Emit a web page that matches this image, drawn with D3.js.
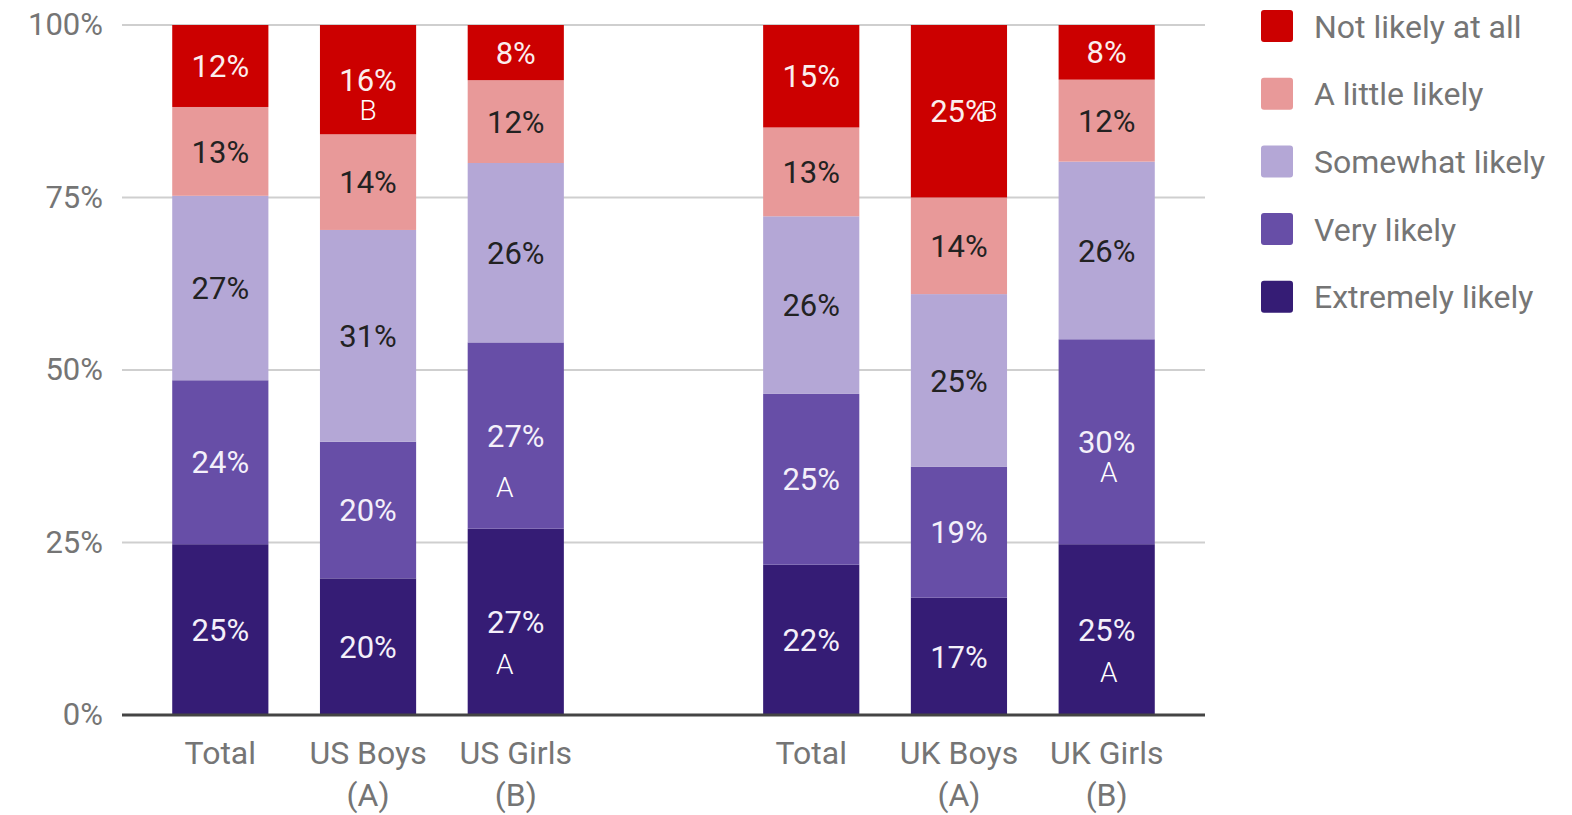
<!DOCTYPE html>
<html>
<head>
<meta charset="utf-8">
<script src="https://cdn.jsdelivr.net/npm/d3@7"></script>
<style>
  body { margin: 0; background: #fff; }
  text { font-family: Roboto, "Noto Sans", sans-serif; }
</style>
</head>
<body>
<script>
const width = 1572,
  height = 815;

// Categories (a blank slot separates US from UK)
const groupIds = ["usTotal", "usBoys", "usGirls", "gap", "ukTotal", "ukBoys", "ukGirls"];
const groupLabels = [["Total"], ["US Boys", "(A)"], ["US Girls", "(B)"], [], ["Total"], ["UK Boys", "(A)"], ["UK Girls", "(B)"]];
const barIds = ["usTotal", "usBoys", "usGirls", "ukTotal", "ukBoys", "ukGirls"];

// Series, bottom to top
const seriesNames = ["Extremely likely", "Very likely", "Somewhat likely", "A little likely", "Not likely at all"];
const extremely = [25, 20, 27, 22, 17, 25];
const very = [24, 20, 27, 25, 19, 30];
const somewhat = [27, 31, 26, 26, 25, 26];
const aLittle = [13, 14, 12, 13, 14, 12];
const notLikely = [12, 16, 8, 15, 25, 8];

// Significance letters: [bar, series, letter]
const letters = [
  ["usBoys", "Not likely at all", "B"],
  ["usGirls", "Very likely", "A"],
  ["usGirls", "Extremely likely", "A"],
  ["ukBoys", "Not likely at all", "B"],
  ["ukGirls", "Very likely", "A"],
  ["ukGirls", "Extremely likely", "A"]
];

const yTicks = [0, 0.25, 0.5, 0.75, 1];

const colors = {
  "Not likely at all": "#cc0000",
  "A little likely": "#e89999",
  "Somewhat likely": "#b4a7d6",
  "Very likely": "#674ea7",
  "Extremely likely": "#351c75"
};
const labelColor = {
  "Not likely at all": "#fbeeee",
  "A little likely": "#222",
  "Somewhat likely": "#222",
  "Very likely": "#f4f0fa",
  "Extremely likely": "#f4f0fa"
};

// build table for d3.stack
const seriesValues = [extremely, very, somewhat, aLittle, notLikely];
const table = barIds.map((id, i) => {
  const row = { id: id };
  seriesNames.forEach((s, j) => (row[s] = seriesValues[j][i]));
  return row;
});

const stacked = d3
  .stack()
  .keys(seriesNames)
  .offset(d3.stackOffsetExpand)(table);

const xScale = d3
  .scaleBand()
  .domain(groupIds)
  .range([122, 1205])
  .paddingInner(0.349)
  .paddingOuter(0.34);

const yScale = d3
  .scaleLinear()
  .domain([0, 1])
  .range([715, 25]);

const svg = d3
  .select("body")
  .append("svg")
  .attr("width", width)
  .attr("height", height);

// gridlines
svg
  .append("g")
  .selectAll("line")
  .data(yTicks.filter(t => t > 0))
  .enter()
  .append("line")
  .attr("x1", 122)
  .attr("x2", 1205)
  .attr("y1", d => yScale(d))
  .attr("y2", d => yScale(d))
  .attr("stroke", "#cfcfcf")
  .attr("stroke-width", 2);

// y axis
const yAxis = d3
  .axisLeft(yScale)
  .tickValues(yTicks)
  .tickFormat(d3.format(".0%"))
  .tickSize(0)
  .tickPadding(19);

svg
  .append("g")
  .attr("transform", "translate(122,0)")
  .call(yAxis)
  .call(g => g.select(".domain").remove())
  .selectAll("text")
  .attr("font-size", 31)
  .attr("font-family", "Roboto, sans-serif")
  .attr("fill", "#757575");

// bars
const layers = svg
  .append("g")
  .selectAll("g")
  .data(stacked)
  .enter()
  .append("g")
  .attr("fill", d => colors[d.key]);

layers
  .selectAll("rect")
  .data(d => d)
  .enter()
  .append("rect")
  .attr("x", d => xScale(d.data.id))
  .attr("y", d => yScale(d[1]))
  .attr("height", d => yScale(d[0]) - yScale(d[1]))
  .attr("width", xScale.bandwidth());

// value labels
stacked.forEach(layer => {
  svg
    .append("g")
    .selectAll("text")
    .data(layer)
    .enter()
    .append("text")
    .attr("x", d => xScale(d.data.id) + xScale.bandwidth() / 2)
    .attr("y", d => (yScale(d[0]) + yScale(d[1])) / 2)
    .attr("dy", "0.36em")
    .attr("text-anchor", "middle")
    .attr("font-size", 31)
    .attr("fill", labelColor[layer.key])
    .text(d => d.data[layer.key] + "%");
});

// significance letters, offset from the value label
const letterOffset = {
  "usBoys|Not likely at all": [0, 30],
  "usGirls|Very likely": [-11, 51],
  "usGirls|Extremely likely": [-11, 42],
  "ukBoys|Not likely at all": [30, 0],
  "ukGirls|Very likely": [2, 30],
  "ukGirls|Extremely likely": [2, 42]
};

letters.forEach(([id, key, letter]) => {
  const layer = stacked.find(s => s.key === key);
  const d = layer.find(p => p.data.id === id);
  const off = letterOffset[id + "|" + key];
  svg
    .append("text")
    .attr("x", xScale(id) + xScale.bandwidth() / 2 + off[0])
    .attr("y", (yScale(d[0]) + yScale(d[1])) / 2 + off[1])
    .attr("dy", "0.36em")
    .attr("text-anchor", "middle")
    .attr("font-size", 28)
    .attr("font-weight", 300)
    .attr("fill", "#fff")
    .text(letter);
});

// baseline
svg
  .append("line")
  .attr("x1", 122)
  .attr("x2", 1205)
  .attr("y1", yScale(0))
  .attr("y2", yScale(0))
  .attr("stroke", "#444")
  .attr("stroke-width", 3);

// category labels
const cat = svg
  .append("g")
  .selectAll("text")
  .data(groupIds)
  .enter()
  .append("text")
  .attr("x", d => xScale(d) + xScale.bandwidth() / 2)
  .attr("y", 752)
  .attr("text-anchor", "middle")
  .attr("font-size", 32)
  .attr("fill", "#757575");

cat
  .selectAll("tspan")
  .data((d, i) => groupLabels[i])
  .enter()
  .append("tspan")
  .attr("x", function() {
    return d3.select(this.parentNode).attr("x");
  })
  .attr("dy", (d, i) => (i === 0 ? "0.36em" : "42px"))
  .text(d => d);

// legend
const legendNames = seriesNames.slice().reverse();
const legend = svg
  .append("g")
  .selectAll("g")
  .data(legendNames)
  .enter()
  .append("g")
  .attr("transform", (d, i) => `translate(1261, ${26 + i * 67.7})`);

legend
  .append("rect")
  .attr("x", 0)
  .attr("y", -16)
  .attr("width", 32)
  .attr("height", 32)
  .attr("rx", 3)
  .attr("fill", d => colors[d]);

legend
  .append("text")
  .attr("x", 53)
  .attr("dy", "0.36em")
  .attr("font-size", 32)
  .attr("fill", "#757575")
  .text(d => d);
</script>
</body>
</html>
